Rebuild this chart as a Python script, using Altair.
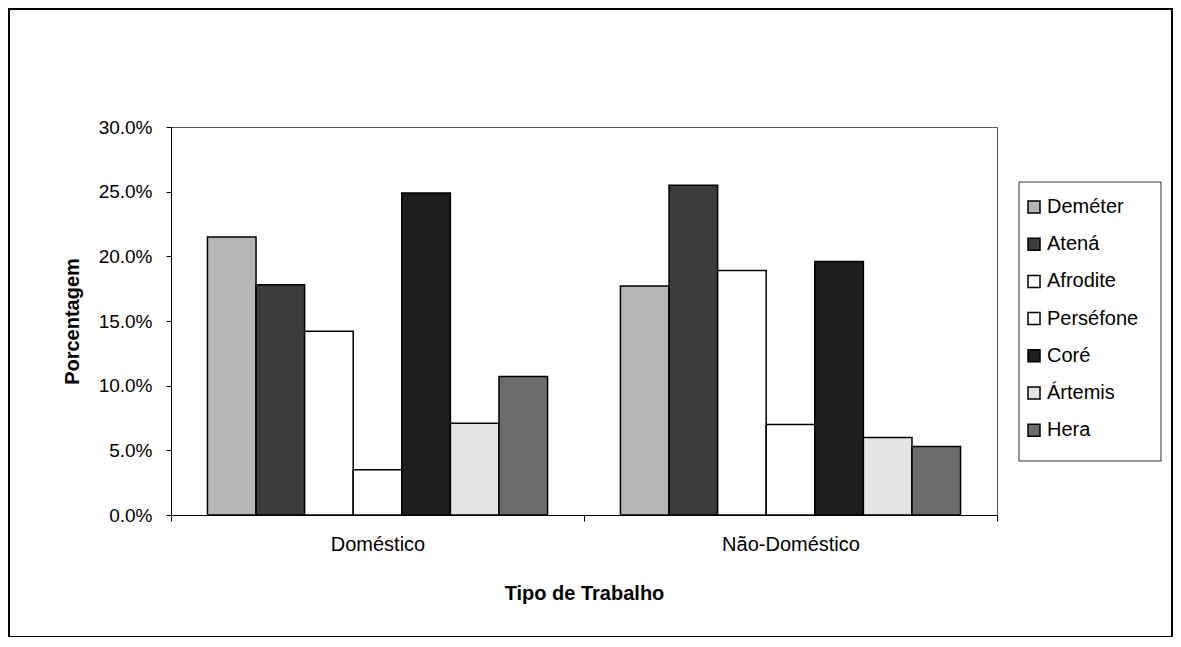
import altair as alt
import pandas as pd

categories = ["Doméstico", "Não-Doméstico"]
series = ["Deméter", "Atená", "Afrodite", "Perséfone", "Coré", "Ártemis", "Hera"]
domestico = [0.215, 0.178, 0.142, 0.035, 0.249, 0.071, 0.107]
nao_domestico = [0.177, 0.255, 0.189, 0.070, 0.196, 0.060, 0.053]
colors = ["#b6b6b6", "#3c3c3c", "#ffffff", "#ffffff", "#1e1e1e", "#e4e4e4", "#6c6c6c"]
y_ticks = [0.0, 0.05, 0.10, 0.15, 0.20, 0.25, 0.30]

rows = []
for cat, vals in zip(categories, [domestico, nao_domestico]):
    for s, v in zip(series, vals):
        rows.append({"Tipo": cat, "Grupo": s, "Valor": v})
df = pd.DataFrame(rows)

FONT = "Liberation Sans"

bars = alt.Chart(df).mark_bar(stroke="black", strokeWidth=1.5).encode(
    x=alt.X("Tipo:N", sort=categories,
            scale=alt.Scale(paddingInner=0, paddingOuter=0),
            axis=alt.Axis(title="Tipo de Trabalho", labelAngle=0, labelFontSize=20,
                          labelFont=FONT, labelColor="black", labelPadding=13,
                          tickBand="extent", tickSize=6, tickColor="black",
                          domainColor="black", titleFont=FONT, titleFontSize=20,
                          titleFontWeight="bold", titleColor="black",
                          titleX=413, titleY=78, titleBaseline="middle")),
    xOffset=alt.XOffset("Grupo:N", sort=series,
                        scale=alt.Scale(paddingInner=0, paddingOuter=0.75)),
    y=alt.Y("Valor:Q", scale=alt.Scale(domain=[0, 0.3], nice=False),
            axis=alt.Axis(title="Porcentagem", values=y_ticks, format=".1%",
                          grid=False, labelFontSize=19, labelFont=FONT,
                          labelColor="black", labelPadding=14, tickSize=5,
                          tickColor="black", domainColor="black",
                          titleFont=FONT, titleFontSize=20, titleFontWeight="bold",
                          titleColor="black", titleX=-99, titleY=194,
                          titleBaseline="middle", titleAlign="center")),
    color=alt.Color("Grupo:N", sort=series,
                    scale=alt.Scale(domain=series, range=colors),
                    legend=alt.Legend(title=None, orient="none", legendX=853, legendY=70,
                                      padding=0, symbolType="square", symbolSize=144,
                                      symbolStrokeColor="black", symbolStrokeWidth=1.5,
                                      labelFont=FONT, labelFontSize=20, labelColor="black",
                                      labelOffset=3, rowPadding=17.2, labelLimit=200)),
)

one = pd.DataFrame({"a": [0]})
legend_box = alt.Chart(one).mark_rect(fill="transparent", stroke="#333", strokeWidth=1).encode(
    x=alt.value(848), x2=alt.value(990), y=alt.value(55), y2=alt.value(334)
)
frame = alt.Chart(one).mark_rect(fill="transparent", stroke="black", strokeWidth=2, clip=False).encode(
    x=alt.value(-162), x2=alt.value(1001), y=alt.value(-118), y2=alt.value(510)
)

chart = alt.layer(frame, legend_box, bars).properties(
    width=826, height=388,
    autosize=alt.AutoSizeParams(type="none"),
    padding={"left": 163, "top": 119, "right": 176, "bottom": 122},
    background="white",
).configure_view(stroke="#555", strokeWidth=1)

chart.save("out.html", embed_options={"renderer": "svg", "actions": False})
